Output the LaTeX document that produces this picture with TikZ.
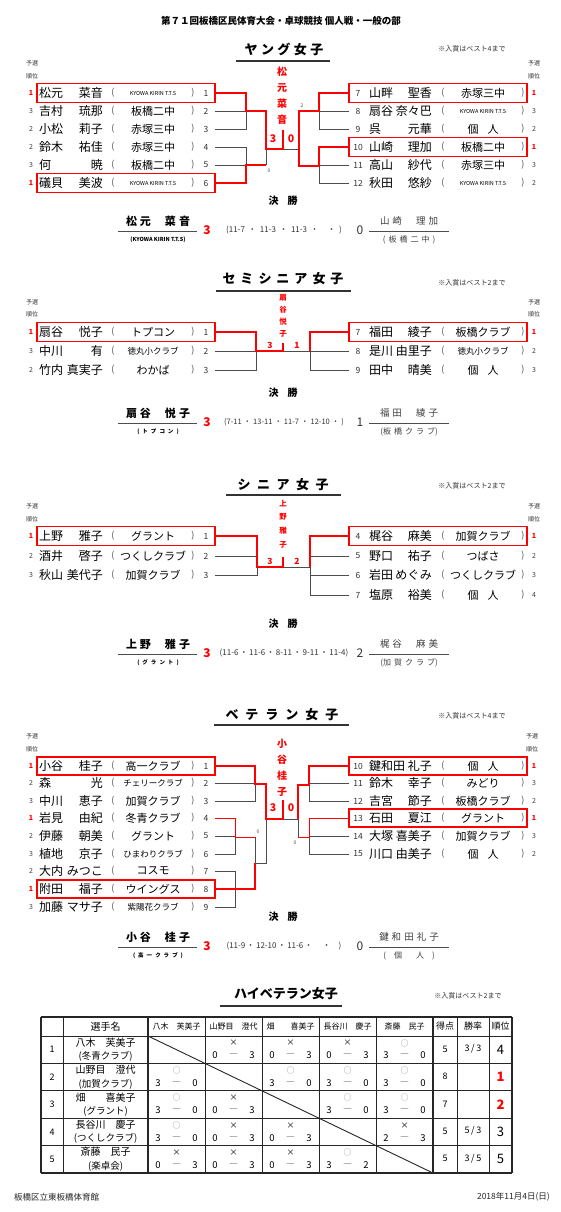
\documentclass[tikz,border=0pt]{standalone}
\usepackage{fontspec}
\setmainfont{Noto Sans CJK JP}
\usetikzlibrary{positioning,calc}

\newcommand\gp{\hspace{3pt}}
\newcommand\kyowa{\fontsize{5.5}{6}\selectfont}
\newcommand\smclub{\fontsize{8.5}{9}\selectfont}
\newcommand\kojin{個\hspace{9pt}人}
\newcommand\dt{\hspace{3.5pt}・\hspace{3.5pt}}
\newcommand\dts{\hspace{2pt}・\hspace{2pt}}
\newcommand\sla{\,/\,}
\newcommand\mko{\textcolor{black!45}{○}}
\newcommand\mkx{×}

% left entry: y, rank, family, given, club, seed
\newcommand\lent[6]{%
  \ifnum#2=1 \def\rkc{red}\def\rkf{\bfseries}\else\def\rkc{black!75}\def\rkf{}\fi
  \node[rnum,text=\rkc] (lrk#1) at (31,#1) {\rkf #2};
  \node[nm,anchor=west] (lfa#1) at (39,#1) {#3};
  \node[nm,anchor=east] (lgv#1) at (103,#1) {#4};
  \node[par] (lpa#1) at (113,#1) {(};
  \node[clb] (lcl#1) at (153,#1) {#5};
  \node[par] (lpb#1) at (193,#1) {)};
  \node[snum] (lsd#1) at (206,#1) {#6};
  \coordinate (l#1) at (215,#1);}
% right entry: y, seed, family, given, club, rank
\newcommand\rent[6]{%
  \ifnum#6=1 \def\rkc{red}\def\rkf{\bfseries}\else\def\rkc{black!75}\def\rkf{}\fi
  \node[snum] (rsd#1) at (358,#1) {#2};
  \node[nm,anchor=west] (rfa#1) at (369,#1) {#3};
  \node[nm,anchor=east] (rgv#1) at (432,#1) {#4};
  \node[par] (rpa#1) at (443,#1) {(};
  \node[clb] (rcl#1) at (483,#1) {#5};
  \node[par] (rpb#1) at (523,#1) {)};
  \node[rnum,text=\rkc] (rrk#1) at (534,#1) {\rkf #6};
  \coordinate (r#1) at (349,#1);}
% final: y, winner, team, sets, loser score, loser, team, id
\newcommand\fin[8]{%
  \node[kessho] (k#8) at (283,#1) {決\hspace{9pt}勝};
  \node[wname] (w#8) at (158,#1+20) {#2};
  \draw[fline] (118,#1+30) -- (197,#1+30);
  \node[wteam] (wt#8) at (158,#1+39) {#3};
  \node[wsc] (ws#8) at (207,#1+29) {3};
  \node[sets] (st#8) at (284,#1+29) {#4};
  \node[lsc] (ls#8) at (360,#1+29) {#5};
  \node[lname] (ln#8) at (409,#1+20) {#6};
  \draw[fline] (369,#1+30) -- (449,#1+30);
  \node[lteam] (lt#8) at (409,#1+39) {#7};}
% league cell: col, row, mark, a, b
\newcommand\res[5]{%
  \node[mk] (m#1#2) at ({176.5+57*#1},{1043+27.4*#2}) {#3};
  \node[sc] (a#1#2) at ({158+57*#1},{1055.5+27.4*#2}) {#4};
  \node[sc,text=black!50] (d#1#2) at ({176.5+57*#1},{1055.5+27.4*#2}) {—};
  \node[sc] (b#1#2) at ({195+57*#1},{1055.5+27.4*#2}) {#5};}

\begin{document}
\begin{tikzpicture}[x=1pt,y=-1pt,
  every node/.style={inner sep=0pt,text=black!85},
  nm/.style={font=\fontsize{12}{12}\selectfont,text=black},
  par/.style={font=\fontsize{9}{9}\selectfont,text=black!70},
  clb/.style={font=\fontsize{11}{11}\selectfont,text=black},
  rnum/.style={font=\fontsize{7}{7}\selectfont},
  snum/.style={font=\fontsize{8.5}{8.5}\selectfont,text=black!80},
  hdr/.style={font=\bfseries\fontsize{9.5}{10}\selectfont,text=black},
  ttl/.style={font=\bfseries\fontsize{13}{14}\selectfont,text=black},
  note/.style={font=\fontsize{7}{7}\selectfont,text=black!80},
  yos/.style={font=\fontsize{6}{6}\selectfont,text=black!80},
  vn/.style={font=\bfseries\fontsize{10}{10}\selectfont,text=red},
  vns/.style={font=\bfseries\fontsize{7.5}{8}\selectfont,text=red},
  sco/.style={font=\bfseries\fontsize{10.5}{11}\selectfont,text=red},
  scs/.style={font=\bfseries\fontsize{8.5}{9}\selectfont,text=red},
  tiny/.style={font=\fontsize{5}{5}\selectfont,text=black!70},
  kessho/.style={font=\bfseries\fontsize{10}{10}\selectfont,text=black},
  wname/.style={font=\bfseries\fontsize{11}{11}\selectfont,text=black},
  wteam/.style={font=\bfseries\fontsize{5.5}{6}\selectfont,text=black},
  wsc/.style={font=\bfseries\fontsize{12}{12}\selectfont,text=red},
  sets/.style={font=\fontsize{8}{8}\selectfont,text=black!80},
  lsc/.style={font=\fontsize{12}{12}\selectfont,text=black!80},
  lname/.style={font=\fontsize{9.5}{10}\selectfont,text=black!75},
  lteam/.style={font=\fontsize{8}{8}\selectfont,text=black!75},
  mk/.style={font=\fontsize{8}{8}\selectfont,text=black},
  sc/.style={font=\fontsize{9.5}{10}\selectfont,text=black},
  cell/.style={font=\fontsize{9}{9}\selectfont,text=black},
  gl/.style={draw=black!70,line width=0.7pt},
  rl/.style={draw=red,line width=1.8pt},
  rt/.style={draw=red,line width=0.8pt},
  pbox/.style={draw=red,line width=1.3pt},
  uline/.style={draw=black!80,line width=1.2pt},
  fline/.style={draw=black!70,line width=0.8pt},
  tline/.style={draw=black!85,line width=0.9pt},
  tthick/.style={draw=black!85,line width=1.8pt}]
\fill[white] (0,0) rectangle (561,1212);
\useasboundingbox (0,0) rectangle (561,1212);

% heading
\node[hdr] (head) at (281,21) {第７１回板橋区民体育大会・卓球競技 個人戦・一般の部};

% ===== young women
\node[ttl] (t1) at (284,49) {ヤ\hspace{3.5pt}ン\hspace{3.5pt}グ\hspace{3.5pt}女\hspace{3.5pt}子};
\draw[uline] (236,61) -- (330,61);
\node[note] (n1) at (472,49) {※入賞はベスト4まで};
\node[yos] (y1a) at (32,63) {予選}; \node[yos] (y1b) at (32,76) {順位};
\node[yos] (y1c) at (534,63) {予選}; \node[yos] (y1d) at (534,76) {順位};
\lent{93}{1}{松元}{菜音}{\kyowa KYOWA KIRIN T.T.S}{1}
\lent{111}{3}{吉村}{琉那}{板橋二中}{2}
\lent{129}{2}{小松}{莉子}{赤塚三中}{3}
\lent{147}{2}{鈴木}{祐佳}{赤塚三中}{4}
\lent{165}{3}{何}{暁}{板橋二中}{5}
\lent{183}{1}{礒貝}{美波}{\kyowa KYOWA KIRIN T.T.S}{6}
\rent{93}{7}{山畔}{聖香}{赤塚三中}{1}
\rent{111}{8}{扇谷}{奈々巴}{\kyowa KYOWA KIRIN T.T.S}{3}
\rent{129}{9}{呉}{元華}{\kojin}{2}
\rent{147}{10}{山崎}{理加}{板橋二中}{1}
\rent{165}{11}{高山}{紗代}{赤塚三中}{3}
\rent{183}{12}{秋田}{悠紗}{\kyowa KYOWA KIRIN T.T.S}{2}
\foreach \y in {93,183} \draw[pbox] (37,\y-9.5) rectangle (215,\y+9.5);
\foreach \y in {93,147} \draw[pbox] (349,\y-9.5) rectangle (527,\y+9.5);
% bracket
\draw[gl] (l111) -| (246,129) -- (l129);
\draw[gl] (l147) -| (246,165) -- (l165);
\draw[gl] (266,149) -- (266,165);
\draw[gl] (r111) -| (319,129) -- (r129);
\draw[gl] (r165) -| (319,183) -- (r183);
\draw[gl] (283,149) -- (299,149);
\draw[rl] (l93) -| (246,111) -| (266,149) -| (283,130);
\draw[rl] (l183) -| (246,165) -- (266,165);
\draw[rl] (r93) -| (319,111) -| (299,166) -| (319,147) -- (r147);
\foreach \c [count=\i] in {松,元,菜,音} \node[vn] (v1\i) at (282,{56+16*\i}) {\c};
\node[sco] (s1a) at (273,139) {3}; \node[sco] (s1b) at (291,139) {0};
\node[tiny] (x1a) at (302,106) {2}; \node[tiny] (x1b) at (269,171) {0};
\fin{201}{松\gp 元\hspace{14pt}菜\gp 音}{(KYOWA KIRIN T.T.S)}{(11-7\dt 11-3\dt 11-3\dt\hspace{2pt}\dt)}{0}{山\gp 崎\hspace{14pt}理\gp 加}{(\gp 板\gp 橋\gp 二\gp 中\gp )}{1}

% ===== semi-senior women
\node[ttl] (t2) at (283,279) {セ\hspace{5pt}ミ\hspace{5pt}シ\hspace{5pt}ニ\hspace{5pt}ア\hspace{5pt}女\hspace{5pt}子};
\draw[uline] (216,291) -- (351,291);
\node[note] (n2) at (472,283) {※入賞はベスト2まで};
\node[yos] (y2a) at (32,302) {予選}; \node[yos] (y2b) at (32,314) {順位};
\node[yos] (y2c) at (534,302) {予選}; \node[yos] (y2d) at (534,314) {順位};
\lent{332}{1}{扇谷}{悦子}{トプコン}{1}
\lent{351}{3}{中川}{有}{\smclub 徳丸小クラブ}{2}
\lent{370}{2}{竹内}{真実子}{わかば}{3}
\rent{332}{7}{福田}{綾子}{板橋クラブ}{1}
\rent{351}{8}{是川}{由里子}{\smclub 徳丸小クラブ}{2}
\rent{370}{9}{田中}{晴美}{\kojin}{3}
\draw[pbox] (37,322.5) rectangle (215,341.5);
\draw[pbox] (349,322.5) rectangle (527,341.5);
% bracket
\draw[gl] (l351) -- (r351);
\draw[gl] (l370) -| (256,351);
\draw[gl] (r370) -| (310,351);
\draw[rl] (l332) -| (256,351) -| (283,343);
\draw[rl] (r332) -| (310,351);
\foreach \c [count=\i] in {扇,谷,悦,子} \node[vns] (v2\i) at (283,{286+12*\i}) {\c};
\node[scs] (s2a) at (270,345) {3}; \node[scs] (s2b) at (297,345) {1};
\fin{393}{扇\gp 谷\hspace{14pt}悦\gp 子}{(\gp ト\gp プ\gp コ\gp ン\gp )}{\fontsize{7.5}{8}\selectfont(7-11\dts 13-11\dts 11-7\dts 12-10\dts)}{1}{福\gp 田\hspace{14pt}綾\gp 子}{(板\gp 橋\gp ク\gp ラ\gp ブ)}{2}

% ===== senior women
\node[ttl] (t3) at (283,485) {シ\hspace{6.5pt}ニ\hspace{6.5pt}ア\hspace{6.5pt}女\hspace{6.5pt}子};
\draw[uline] (226,495) -- (341,495);
\node[note] (n3) at (472,486) {※入賞はベスト2まで};
\node[yos] (y3a) at (32,506) {予選}; \node[yos] (y3b) at (32,519) {順位};
\node[yos] (y3c) at (534,506) {予選}; \node[yos] (y3d) at (534,519) {順位};
\lent{536}{1}{上野}{雅子}{グラント}{1}
\lent{556}{2}{酒井}{啓子}{つくしクラブ}{2}
\lent{575}{3}{秋山}{美代子}{加賀クラブ}{3}
\rent{536}{4}{梶谷}{麻美}{加賀クラブ}{1}
\rent{556}{5}{野口}{祐子}{つばさ}{2}
\rent{575}{6}{岩田}{めぐみ}{つくしクラブ}{3}
\rent{595}{7}{塩原}{裕美}{\kojin}{4}
\draw[pbox] (37,526.5) rectangle (215,545.5);
\draw[pbox] (349,526.5) rectangle (527,545.5);
% bracket
\draw[gl] (l556) -| (257,575) -- (l575);
\draw[gl] (283,567) -- (310,567);
\draw[gl] (r556) -| (310,595) -- (r595);
\draw[gl] (r575) -- (310,575);
\draw[rl] (l536) -| (257,567) -| (283,557);
\draw[rl] (r536) -| (310,567);
\foreach \c [count=\i] in {上,野,雅,子} \node[vns] (v3\i) at (283,{489+14*\i}) {\c};
\node[scs] (s3a) at (270,561) {3}; \node[scs] (s3b) at (297,561) {2};
\fin{624}{上\gp 野\hspace{14pt}雅\gp 子}{(\gp グ\gp ラ\gp ン\gp ト\gp )}{(11-6\,・\,11-6\,・\,8-11\,・\,9-11\,・\,11-4)}{2}{梶\gp 谷\hspace{14pt}麻\gp 美}{(加\gp 賀\gp ク\gp ラ\gp ブ)}{3}

% ===== veteran women
\node[ttl] (t4) at (282,715) {ベ\hspace{7pt}テ\hspace{7pt}ラ\hspace{7pt}ン\hspace{7pt}女\hspace{7pt}子};
\draw[uline] (214,725) -- (349,725);
\node[note] (n4) at (472,716) {※入賞はベスト4まで};
\node[yos] (y4a) at (32,736) {予選}; \node[yos] (y4b) at (32,749) {順位};
\node[yos] (y4c) at (532,736) {予選}; \node[yos] (y4d) at (532,749) {順位};
\lent{766}{1}{小谷}{桂子}{高一クラブ}{1}
\lent{783}{2}{森}{光}{\smclub チェリークラブ}{2}
\lent{801}{3}{中川}{恵子}{加賀クラブ}{3}
\lent{818}{1}{岩見}{由紀}{冬青クラブ}{4}
\lent{836}{2}{伊藤}{朝美}{グラント}{5}
\lent{854}{3}{植地}{京子}{\smclub ひまわりクラブ}{6}
\lent{871}{2}{大内}{みつこ}{コスモ}{7}
\lent{889}{1}{附田}{福子}{ウイングス}{8}
\lent{907}{3}{加藤}{マサ子}{\smclub 紫陽花クラブ}{9}
\rent{766}{10}{鍵和田}{礼子}{\kojin}{1}
\rent{783}{11}{鈴木}{幸子}{みどり}{3}
\rent{801}{12}{吉宮}{節子}{板橋クラブ}{2}
\rent{818}{13}{石田}{夏江}{グラント}{1}
\rent{836}{14}{大塚}{喜美子}{加賀クラブ}{3}
\rent{854}{15}{川口}{由美子}{\kojin}{2}
\foreach \y in {766,889} \draw[pbox] (37,\y-9) rectangle (215,\y+9);
\foreach \y in {766,818} \draw[pbox] (349,\y-9) rectangle (527,\y+9);
% bracket
\draw[gl] (l783) -| (255,801) -- (l801);
\draw[gl] (l836) -| (235,854) -- (l854);
\draw[gl] (l871) -| (235,907) -- (l907);
\draw[gl] (255,837) |- (266,863) -- (266,819);
\draw[rt] (l818) -| (235,837) -- (255,837);
\draw[rl] (l889) -| (255,863);
\draw[rl] (l766) -| (255,784) -| (266,819) -| (283,800);
\draw[gl] (r783) -| (309,801) -- (r801);
\draw[gl] (r836) -| (309,854) -- (r854);
\draw[gl] (283,819) -- (298,819) -- (298,837);
\draw[rt] (r818) -| (309,837) -- (298,837);
\draw[rl] (r766) -| (309,785) -| (298,819);
\foreach \c [count=\i] in {小,谷,桂,子} \node[vn] (v4\i) at (282,{727+16.3*\i}) {\c};
\node[sco] (s4a) at (273,808) {3}; \node[sco] (s4b) at (291,808) {0};
\node[tiny] (x4a) at (258,832) {0}; \node[tiny] (x4b) at (295,843) {0};
\fin{917}{小\gp 谷\hspace{14pt}桂\gp 子}{(\gp 高\gp 一\gp ク\gp ラ\gp ブ\gp )}{(11-9\,・\,12-10\,・\,11-6\,・\hspace{10pt}・\hspace{8pt})}{0}{鍵\gp 和\gp 田\gp 礼\gp 子}{(\hspace{8pt}個\hspace{14pt}人\hspace{8pt})}{4}

% ===== high veteran women (league)
\node[ttl] (t5) at (286,994) {ハイベテラン女子};
\draw[uline] (220,1006) -- (342,1006);
\node[note] (n5) at (468,996) {※入賞はベスト2まで};
% grid
\foreach \x in {63,205,262,319,376,457,489} \draw[tline] (\x,1017) -- (\x,1173);
\foreach \y in {1036,1063.4,1090.8,1118.2,1145.6} \draw[tline] (41,\y) -- (512,\y);
\foreach \x in {41,148,433,512} \draw[tthick] (\x,1017) -- (\x,1173);
\draw[tthick] (41,1017) -- (512,1017);
\draw[tthick] (41,1173) -- (512,1173);
\foreach \i in {0,...,4} \draw[tline] ({148+57*\i},{1036+27.4*\i}) -- ({205+57*\i},{1063.4+27.4*\i});
% header row
\node[font=\fontsize{10}{10}\selectfont,text=black] (hname) at (105.5,1026.5) {選手名};
\foreach \n [count=\i from 0] in {八木　芙美子,山野目　澄代,畑　　喜美子,長谷川　慶子,斎藤　民子}
  \node[font=\fontsize{8}{8}\selectfont,text=black] (hop\i) at ({176.5+57*\i},1026.5) {\n};
\node[cell] (hpt) at (445,1026.5) {得点};
\node[cell] (hwr) at (473,1026.5) {勝率};
\node[cell] (hrk) at (500.5,1026.5) {順位};
% players
\foreach \nm/\tm/\pt/\wr/\rk/\rc [count=\i from 0] in
  {八木　芙美子/(冬青クラブ)/5/3\sla 3/4/black,
   山野目　澄代/(加賀クラブ)/8//{\bfseries 1}/red,
   畑　　喜美子/(グラント)/7//{\bfseries 2}/red,
   長谷川　慶子/(つくしクラブ)/5/5\sla 3/3/black,
   斎藤　民子/(楽卓会)/5/3\sla 5/5/black}{
  \node[cell] (pn\i) at (52,{1049.7+27.4*\i}) {\the\numexpr\i+1\relax};
  \node[font=\fontsize{10}{10}\selectfont,text=black] (pm\i) at (105.5,{1042.5+27.4*\i}) {\nm};
  \node[font=\fontsize{9.5}{10}\selectfont,text=black] (pt\i) at (105.5,{1056.5+27.4*\i}) {\tm};
  \node[cell] (pp\i) at (445,{1049+27.4*\i}) {\pt};
  \node[cell] (pw\i) at (473,{1049+27.4*\i}) {\wr};
  \node[font=\fontsize{13}{13}\selectfont,text=\rc] (pr\i) at (500.5,{1049.7+27.4*\i}) {\rk};
}
% results
\foreach \c/\r/\m/\a/\b in {1/0/\mkx/0/3,2/0/\mkx/0/3,3/0/\mkx/0/3,4/0/\mko/3/0,
  0/1/\mko/3/0,2/1/\mko/3/0,3/1/\mko/3/0,4/1/\mko/3/0,
  0/2/\mko/3/0,1/2/\mkx/0/3,3/2/\mko/3/0,4/2/\mko/3/0,
  0/3/\mko/3/0,1/3/\mkx/0/3,2/3/\mkx/0/3,4/3/\mkx/2/3,
  0/4/\mkx/0/3,1/4/\mkx/0/3,2/4/\mkx/0/3,3/4/\mko/3/2}
  \res{\c}{\r}{\m}{\a}{\b};

% footer
\node[font=\fontsize{8.5}{9}\selectfont,anchor=west] (place) at (14,1197) {板橋区立東板橋体育館};
\node[font=\fontsize{8.5}{9}\selectfont,anchor=east] (date) at (550,1197) {2018年11月4日(日)};
\end{tikzpicture}
\end{document}
